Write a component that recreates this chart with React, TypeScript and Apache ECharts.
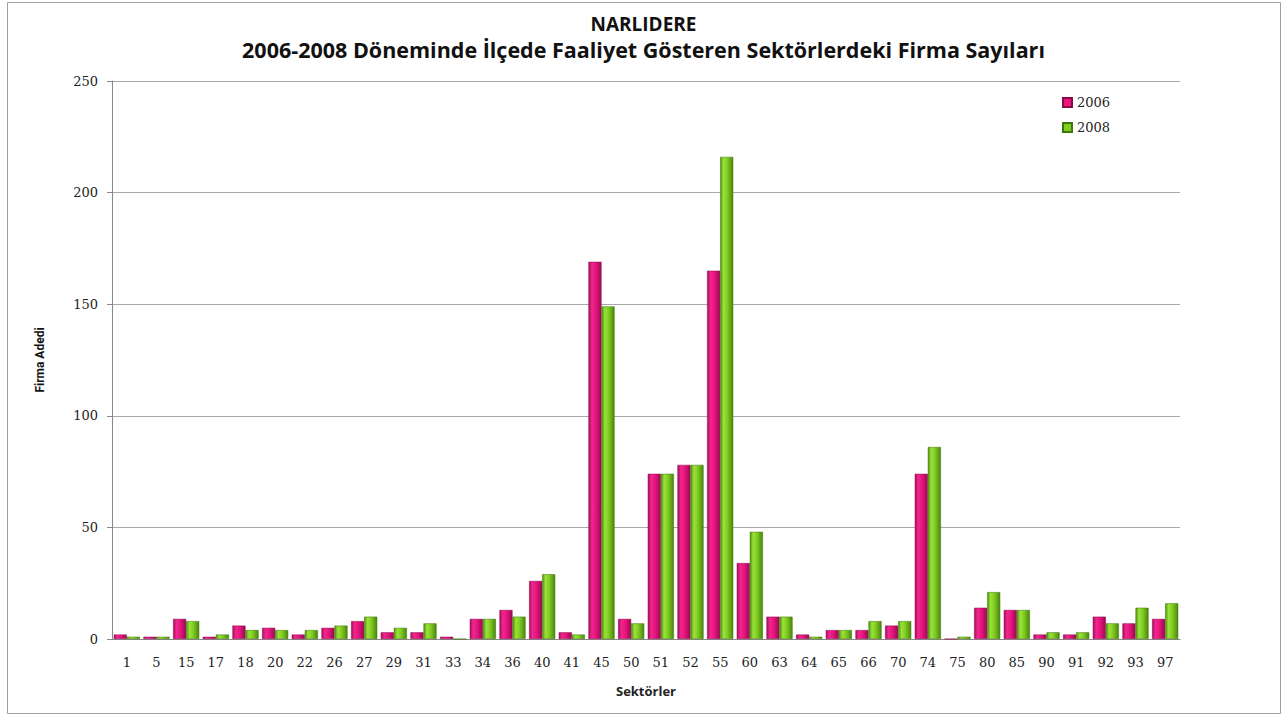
import React, { useEffect, useRef } from "react";
import * as echarts from "echarts";

const sectors = ["1","5","15","17","18","20","22","26","27","29","31","33","34","36","40","41","45","50","51","52","55","60","63","64","65","66","70","74","75","80","85","90","91","92","93","97"];
const firms2006 = [2,1,9,1,6,5,2,5,8,3,3,1,9,13,26,3,169,9,74,78,165,34,10,2,4,4,6,74,0,14,13,2,2,10,7,9];
const firms2008 = [1,1,8,2,4,4,4,6,10,5,7,0,9,10,29,2,149,7,74,78,216,48,10,1,4,8,8,86,1,21,13,3,3,7,14,16];
const yTicks = [0, 50, 100, 150, 200, 250];

const pinkGrad = new echarts.graphic.LinearGradient(0, 0, 1, 0, [
  { offset: 0, color: "#a80c58" },
  { offset: 0.25, color: "#f0268e" },
  { offset: 0.55, color: "#e8157f" },
  { offset: 1, color: "#9a0a50" },
]);
const greenGrad = new echarts.graphic.LinearGradient(0, 0, 1, 0, [
  { offset: 0, color: "#4f8f0e" },
  { offset: 0.25, color: "#9be23a" },
  { offset: 0.55, color: "#80cc22" },
  { offset: 1, color: "#4a860c" },
]);

export default function App() {
  const ref = useRef<HTMLDivElement>(null);
  useEffect(() => {
    if (!ref.current) return;
    const chart = echarts.init(ref.current, undefined, { renderer: "svg" });
    chart.setOption({
      animation: false,
      backgroundColor: "#ffffff",
      title: [
        {
          text: "NARLIDERE",
          left: "center",
          top: 9,
          textStyle: { fontFamily: "Open Sans", fontWeight: "bold", fontSize: 19, color: "#111" },
        },
        {
          text: "2006-2008 Döneminde İlçede Faaliyet Gösteren Sektörlerdeki Firma Sayıları",
          left: "center",
          top: 33,
          textStyle: { fontFamily: "Open Sans", fontWeight: "bold", fontSize: 21.5, color: "#111" },
        },
      ],
      legend: {
        orient: "vertical",
        left: 1057,
        top: 91,
        itemWidth: 9,
        itemHeight: 9,
        itemGap: 12,
        icon: "rect",
        textStyle: { fontFamily: "DejaVu Serif", fontSize: 13, color: "#222" },
        data: [
          { name: "2006", itemStyle: { color: "#e8157f" } },
          { name: "2008", itemStyle: { color: "#80cc22" } },
        ],
      },
      graphic: [
        {
          type: "rect",
          shape: { x: 7.5, y: 2.5, width: 1273, height: 711 },
          style: { fill: "none", stroke: "#a0a0a0", lineWidth: 1 },
          silent: true,
        },
      ],
      grid: { left: 112, right: 107, top: 81, bottom: 76 },
      xAxis: {
        type: "category",
        data: sectors,
        name: "Sektörler",
        nameLocation: "middle",
        nameGap: 45,
        nameTextStyle: { fontFamily: "Open Sans", fontWeight: "bold", fontSize: 13, color: "#222" },
        axisLine: { lineStyle: { color: "#888" } },
        axisTick: { show: false },
        axisLabel: { interval: 0, margin: 17, fontFamily: "DejaVu Serif", fontSize: 13, color: "#222" },
      },
      yAxis: {
        type: "value",
        min: 0,
        max: 250,
        interval: 50,
        name: "Firma Adedi",
        nameLocation: "middle",
        nameGap: 66,
        nameTextStyle: { fontFamily: "Roboto", fontWeight: "bold", fontSize: 12, color: "#111" },
        axisLine: { show: true, lineStyle: { color: "#888" } },
        axisTick: { show: true, length: 5, lineStyle: { color: "#888" } },
        axisLabel: {
          margin: 14,
          fontFamily: "DejaVu Serif",
          fontSize: 13,
          color: "#222",
          formatter: (v: number) => (yTicks.includes(v) ? String(v) : ""),
        },
        splitLine: { lineStyle: { color: "#a8a8a8" } },
      },
      series: [
        {
          name: "2006",
          type: "bar",
          data: firms2006,
          barGap: "0%",
          barCategoryGap: "12%",
          itemStyle: { color: pinkGrad, borderColor: "#8a0846", borderWidth: 0.5 },
        },
        {
          name: "2008",
          type: "bar",
          data: firms2008,
          itemStyle: { color: greenGrad, borderColor: "#3f760a", borderWidth: 0.5 },
        },
      ],
    });
    return () => chart.dispose();
  }, []);
  return (
    <div
      ref={ref}
      style={{ position: "absolute", left: 0, top: 0, width: 1287, height: 715 }}
    />
  );
}
